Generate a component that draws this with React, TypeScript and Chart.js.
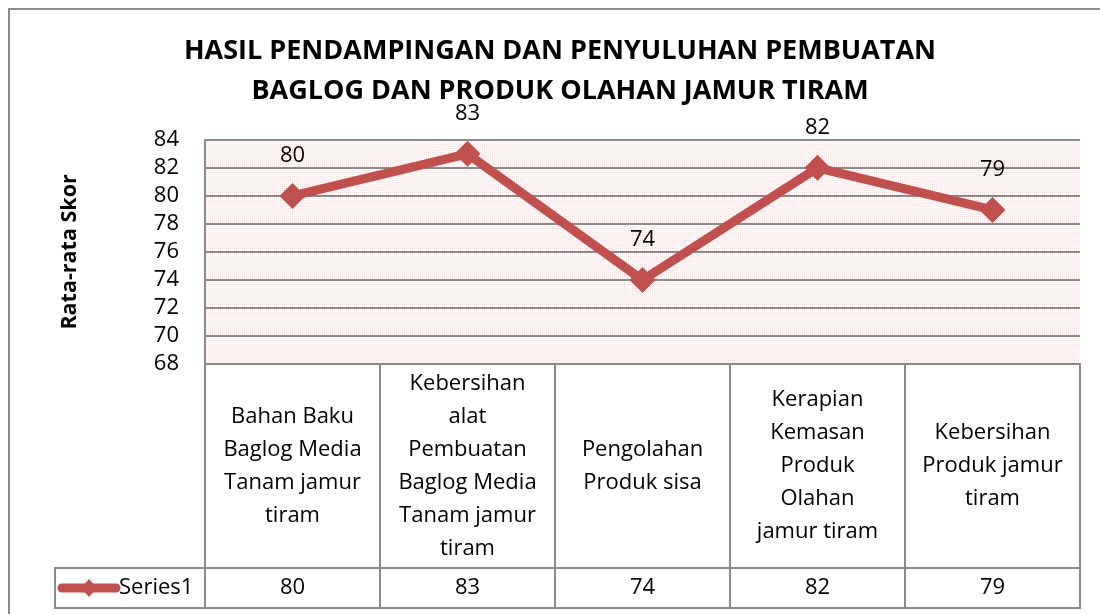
import React, { useEffect, useRef } from "react";
import { Chart, registerables } from "chart.js";

Chart.register(...registerables);

// ---------- data ----------
const titleLines: string[] = [
  "HASIL PENDAMPINGAN DAN PENYULUHAN PEMBUATAN",
  "BAGLOG DAN PRODUK OLAHAN JAMUR TIRAM",
];
const yAxisTitle = "Rata-rata Skor";
const categories: string[][] = [
  ["Bahan Baku", "Baglog Media", "Tanam jamur", "tiram"],
  ["Kebersihan", "alat", "Pembuatan", "Baglog Media", "Tanam jamur", "tiram"],
  ["Pengolahan", "Produk sisa"],
  ["Kerapian", "Kemasan", "Produk", "Olahan", "jamur tiram"],
  ["Kebersihan", "Produk jamur", "tiram"],
];
const seriesName = "Series1";
const seriesValues: number[] = [80, 83, 74, 82, 79];
const yMin = 68;
const yMax = 84;
const yStep = 2;

// ---------- styles ----------
const FONT = "'Open Sans', 'DejaVu Sans', sans-serif";
const LINE_COLOR = "#C0504D";
const GRID = "#8a8a8a";
const CAT_ROW_H = 204;
const VAL_ROW_H = 40;
const LEGEND_LEFT = 55;
const LINE_H = 33;
const LABEL_OFFSET = 40;

function makePattern(ctx: CanvasRenderingContext2D) {
  const tile = document.createElement("canvas");
  tile.width = 8;
  tile.height = 8;
  const t = tile.getContext("2d")!;
  t.fillStyle = "#ffffff";
  t.fillRect(0, 0, 8, 8);
  t.fillStyle = "#f1dede";
  for (let y = 0; y < 8; y++) {
    for (let x = 0; x < 8; x++) {
      const gx = x % 4 === 0;
      const gy = y % 4 === 0;
      if ((gx && y % 2 === 0) || (gy && x % 2 === 0) || (x % 4 === 2 && y % 4 === 2)) t.fillRect(x, y, 1, 1);
    }
  }
  return ctx.createPattern(tile, "repeat");
}

const backgroundPlugin = {
  id: "bgFrame",
  beforeDraw(chart: any) {
    const { ctx, chartArea: a } = chart;
    ctx.save();
    ctx.fillStyle = "#ffffff";
    ctx.fillRect(0, 0, chart.width, chart.height);
    ctx.strokeStyle = "#8c8c8c";
    ctx.lineWidth = 2;
    ctx.strokeRect(9, 9, chart.width + 40, chart.height + 40);
    const pat = makePattern(ctx);
    if (pat) {
      ctx.fillStyle = pat;
      ctx.fillRect(a.left, a.top, a.right - a.left, a.bottom - a.top);
    }
    ctx.restore();
  },
};

const labelsPlugin = {
  id: "pointLabels",
  afterDatasetsDraw(chart: any) {
    const { ctx } = chart;
    const meta = chart.getDatasetMeta(0);
    ctx.save();
    ctx.fillStyle = "#000";
    ctx.font = `22px ${FONT}`;
    ctx.textAlign = "center";
    ctx.textBaseline = "middle";
    meta.data.forEach((pt: any, i: number) => {
      ctx.fillText(String(seriesValues[i]), pt.x, pt.y - LABEL_OFFSET);
    });
    ctx.restore();
  },
};

const tablePlugin = {
  id: "dataTable",
  afterDraw(chart: any) {
    const { ctx, chartArea: a, scales } = chart;
    const xs = scales.x;
    const n = categories.length;
    const colW = (a.right - a.left) / n;
    const top = a.bottom;
    const mid = top + CAT_ROW_H;
    const bot = mid + VAL_ROW_H;
    ctx.save();
    ctx.strokeStyle = GRID;
    ctx.lineWidth = 2;
    const line = (x1: number, y1: number, x2: number, y2: number) => {
      ctx.beginPath();
      ctx.moveTo(x1, y1);
      ctx.lineTo(x2, y2);
      ctx.stroke();
    };
    line(a.left, top, a.right + 1, top);
    line(LEGEND_LEFT, mid, a.right + 1, mid);
    line(LEGEND_LEFT, bot, a.right + 1, bot);
    for (let i = 0; i <= n; i++) {
      const xx = Math.round(a.left + i * colW);
      line(xx, top - 1, xx, bot + 1);
    }
    line(LEGEND_LEFT, mid - 1, LEGEND_LEFT, bot + 1);

    ctx.fillStyle = "#000";
    ctx.font = `22px ${FONT}`;
    ctx.textAlign = "center";
    ctx.textBaseline = "middle";
    const cy = (top + mid) / 2;
    categories.forEach((lines, i) => {
      const cx = xs.getPixelForValue(i);
      const start = cy - ((lines.length - 1) * LINE_H) / 2;
      lines.forEach((ln, j) => ctx.fillText(ln, cx, start + j * LINE_H));
      ctx.fillText(String(seriesValues[i]), cx, (mid + bot) / 2);
    });

    // legend key
    const ly = (mid + bot) / 2;
    ctx.strokeStyle = LINE_COLOR;
    ctx.lineWidth = 9;
    ctx.lineCap = "round";
    line(62, ly, 116, ly);
    ctx.fillStyle = LINE_COLOR;
    ctx.beginPath();
    ctx.moveTo(89 - 8, ly);
    ctx.lineTo(89, ly - 9);
    ctx.lineTo(89 + 8, ly);
    ctx.lineTo(89, ly + 9);
    ctx.closePath();
    ctx.fill();
    ctx.fillStyle = "#000";
    ctx.textAlign = "left";
    ctx.fillText(seriesName, 119, ly);
    ctx.restore();
  },
};

export default function App() {
  const ref = useRef<HTMLCanvasElement>(null);
  useEffect(() => {
    if (!ref.current) return;
    const chart = new Chart(ref.current, {
      type: "line",
      data: {
        labels: categories.map((c) => c.join(" ")),
        datasets: [
          {
            label: seriesName,
            data: seriesValues,
            borderColor: LINE_COLOR,
            backgroundColor: LINE_COLOR,
            borderWidth: 9,
            pointStyle: "rectRot",
            pointRadius: 13,
            pointBackgroundColor: LINE_COLOR,
            pointBorderColor: LINE_COLOR,
            pointBorderWidth: 0,
            tension: 0,
            clip: false as any,
          },
        ],
      },
      options: {
        responsive: false,
        animation: false,
        events: [],
        layout: { padding: { left: 40, right: 20, top: 0, bottom: 0 } },
        plugins: {
          legend: { display: false },
          tooltip: { enabled: false },
          title: {
            display: true,
            text: titleLines,
            color: "#000",
            font: { family: FONT, size: 27, weight: "bold", lineHeight: 1.46 },
            padding: { top: 32, bottom: 29 },
          },
        },
        scales: {
          x: {
            type: "category",
            offset: true,
            grid: { display: false },
            border: { display: false },
            ticks: { display: false },
            afterFit: (s: any) => {
              s.height = 250;
            },
          },
          y: {
            min: yMin,
            max: yMax,
            ticks: {
              stepSize: yStep,
              autoSkip: false,
              padding: 26,
              color: "#000",
              font: { family: FONT, size: 22 },
            },
            grid: { color: GRID, lineWidth: 2, drawTicks: false },
            border: { display: true, color: GRID, width: 2 },
            title: {
              display: true,
              text: yAxisTitle,
              color: "#000",
              font: { family: FONT, size: 21.5, weight: "bold", lineHeight: 1.2 },
              padding: { top: 17, bottom: 0 },
            },
            afterFit: (s: any) => {
              s.width = 165;
            },
          },
        },
      } as any,
      plugins: [backgroundPlugin, labelsPlugin, tablePlugin],
    });
    return () => chart.destroy();
  }, []);
  return (
    <div style={{ position: "fixed", left: 0, top: 0, width: 1100, height: 614, background: "#fff" }}>
      <canvas ref={ref} width={1100} height={614} style={{ width: 1100, height: 614, display: "block" }} />
    </div>
  );
}
